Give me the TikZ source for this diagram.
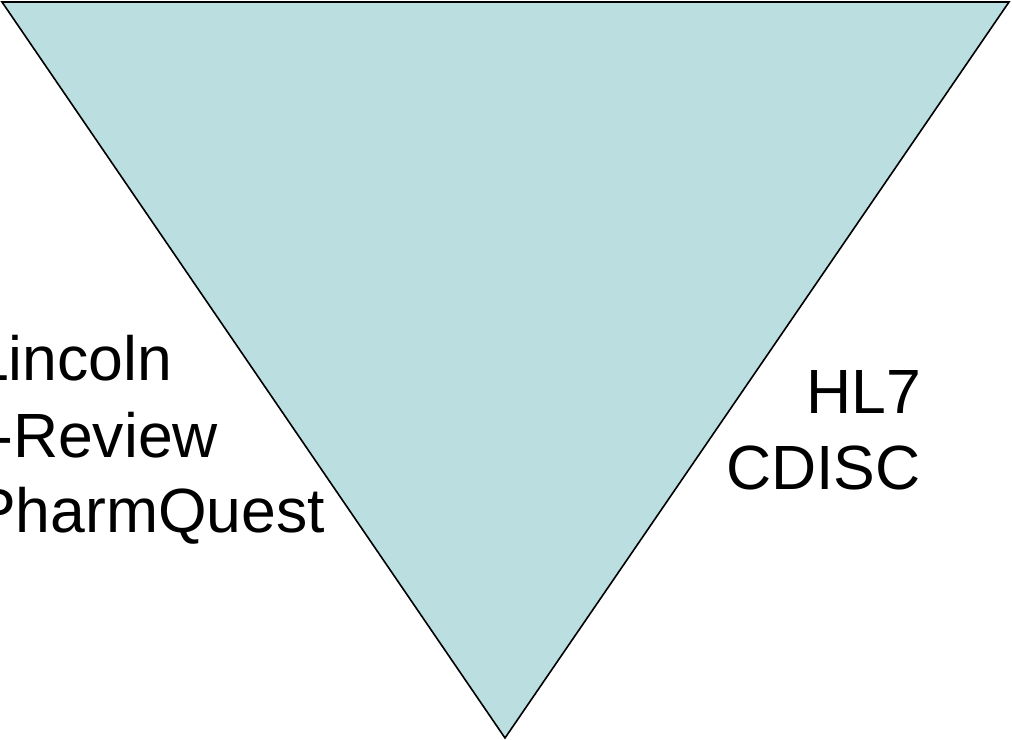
\documentclass[tikz,border=0pt]{standalone}
\usepackage{fontspec}
\setmainfont{Liberation Sans}
\definecolor{trifill}{RGB}{187,222,224}
\begin{document}
\begin{tikzpicture}[x=1bp,y=-1bp,
  label/.style={inner sep=0pt,font=\fontsize{62.5bp}{76bp}\selectfont}]
\useasboundingbox (0,0) rectangle (1012,740);
\clip (0,0) rectangle (1012,740);
% inverted triangle
\coordinate (tl) at (2,2);
\coordinate (tr) at (1009,2);
\coordinate (bt) at (505,738);
\draw[fill=trifill,line width=1.6bp,line join=miter] (tl) -- (tr) -- (bt) -- cycle;
% left list
\node[label,anchor=base west] (lincoln) at (-26,380) {Lincoln};
\node[label,anchor=base west] (review) at (-8,457) {-Review};
\node[label,anchor=base west] (pharm) at (-26,532) {PharmQuest};
% right list
\node[label,anchor=base east] (hl) at (921,413) {HL7};
\node[label,anchor=base east] (cdisc) at (921,489) {CDISC};
\end{tikzpicture}
\end{document}
